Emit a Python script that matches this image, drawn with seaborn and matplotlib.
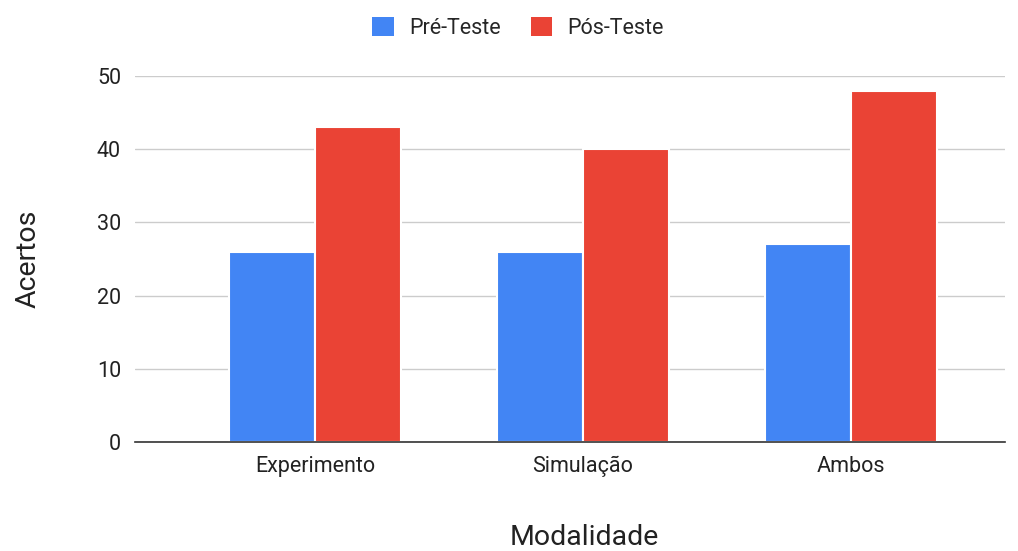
import pandas as pd
import matplotlib
matplotlib.use('Agg')
import matplotlib.pyplot as plt
import seaborn as sns
from matplotlib.patches import Patch

modalidades = ['Experimento', 'Simulação', 'Ambos']
pre_teste = [26, 26, 27]
pos_teste = [43, 40, 48]
series = ['Pré-Teste', 'Pós-Teste']
cores = ['#4285F4', '#EA4335']

df = pd.DataFrame({
    'Modalidade': modalidades * 2,
    'Acertos': pre_teste + pos_teste,
    'Teste': [series[0]] * 3 + [series[1]] * 3,
})

sns.set_style('white')
plt.rcParams['font.family'] = ['Roboto', 'DejaVu Sans']

fig = plt.figure(figsize=(10.18, 5.51), dpi=100)
ax = fig.add_axes([135 / 1018, 1 - 442 / 551, 870 / 1018, 366 / 551])

sns.barplot(data=df, x='Modalidade', y='Acertos', hue='Teste', palette=cores,
            width=0.64, saturation=1, edgecolor='white', linewidth=1.5,
            legend=False, ax=ax)

ax.set_ylim(0, 50)
ax.set_xlim(-0.672, 2.575)
ax.set_yticks([0, 10, 20, 30, 40, 50])
ax.yaxis.grid(True, color='#cccccc', linewidth=1)
ax.set_axisbelow(True)
for s in ['top', 'right', 'left']:
    ax.spines[s].set_visible(False)
ax.spines['bottom'].set_color('#333333')
ax.spines['bottom'].set_linewidth(1.2)
ax.tick_params(axis='both', length=0, labelsize=15.5, colors='#222222')
ax.tick_params(axis='y', pad=10)
ax.tick_params(axis='x', pad=10)

ax.set_xlabel('Modalidade', fontsize=20.5, color='#222222')
ax.xaxis.set_label_coords((584 - 135) / 870, -0.225)
ax.set_ylabel('Acertos', fontsize=20.5, color='#222222', labelpad=40)

handles = [Patch(facecolor=c, edgecolor='none') for c in cores]
fig.legend(handles, series, loc='center', bbox_to_anchor=(518 / 1018, 1 - 28 / 551),
           ncol=2, frameon=False, fontsize=15.5, handlelength=1.0, handleheight=1.0,
           columnspacing=1.4, handletextpad=0.7)

fig.savefig('out.png', dpi=100)
